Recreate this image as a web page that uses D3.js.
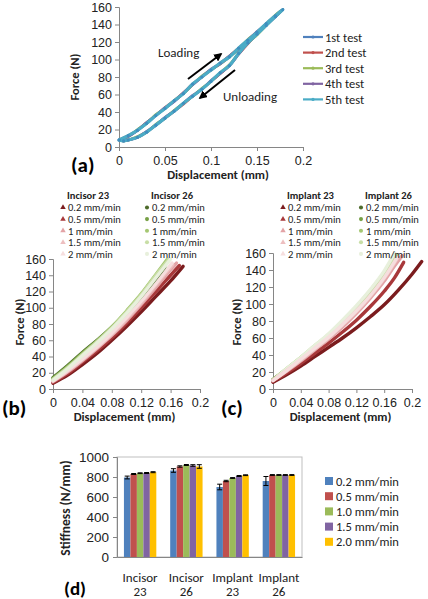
<!DOCTYPE html>
<html><head><meta charset="utf-8">
<script src="https://cdn.jsdelivr.net/npm/d3@7"></script>
<style>
body{margin:0;background:#fff;}
svg{display:block;font-family:Carlito,Lato,"Open Sans",sans-serif;}
</style></head><body>
<svg id="c" width="428" height="599"></svg>
<script>
// ---------- Panel (a) data ----------
const testNames = ["1st test","2nd test","3rd test","4th test","5th test"];
const testColors = ["#4F81BD","#C0504D","#9BBB59","#8064A2","#4BACC6"];
const loopDisp = [0,0.01,0.02,0.03,0.04,0.05,0.06,0.07,0.08,0.09,0.1,0.11,0.12,0.13,0.14,0.15,0.16,0.17,0.178,
                  0.17,0.16,0.15,0.14,0.13,0.12,0.11,0.1,0.09,0.08,0.07,0.06,0.05,0.04,0.03,0.02,0.01,0.005,0];
const test1Force = [8,12,19,27,36,44,52,61,71,80,88,95,103,112,122,131,140,150,157,
                    149,139,129,119,107,93,84,75,66,58,50,41,33,25,17,11,8,7,8];
const test2Force = [8,13,19,28,36,45,53,62,72,80,88,96,104,113,122,131,141,150,157,
                    149,139,129,118,106,93,84,75,66,58,49,41,33,25,17,11,8,7,8];
const test3Force = [8,12,20,27,37,44,53,61,71,81,88,95,103,112,123,131,140,151,157,
                    150,139,128,119,107,94,85,75,67,58,50,42,33,26,17,12,8,7,8];
const test4Force = [8,12,19,28,36,45,52,62,71,80,89,95,104,112,122,132,140,150,157,
                    149,140,129,119,106,93,84,76,66,59,50,41,34,25,18,11,8,7,8];
const test5Force = [8,13,19,27,36,44,53,61,72,80,88,96,103,113,122,131,141,150,157,
                    149,139,129,119,107,93,85,75,66,58,50,41,33,25,17,11,8,7,8];
const testForces = [test1Force,test2Force,test3Force,test4Force,test5Force];
const aXTicks = [0,0.05,0.1,0.15,0.2];
const forceTicks = [0,20,40,60,80,100,120,140,160];

// ---------- Panel (b) & (c) data ----------
const rateLabels = ["0.2 mm/min","0.5 mm/min","1 mm/min","1.5 mm/min","2 mm/min"];
const redShades = ["#7B1C1E","#A8383A","#E3A3A6","#EDBFC0","#F6DEDE"];
const greenShades = ["#4D6B2B","#77A046","#A5C772","#C8DEA6","#E8F0DC"];
const bcXTicks = [0,0.04,0.08,0.12,0.16,0.2];
const incisor23 = [
  [[0,7],[0.02,17],[0.04,30],[0.06,44],[0.08,60],[0.1,77],[0.12,95],[0.14,114],[0.16,133],[0.177,151]],
  [[0,8],[0.02,19],[0.04,33],[0.06,47],[0.08,63],[0.1,81],[0.12,100],[0.14,120],[0.16,140],[0.172,152]],
  [[0,9],[0.02,21],[0.04,35],[0.06,50],[0.08,66],[0.1,84],[0.12,104],[0.14,125],[0.16,147],[0.168,155]],
  [[0,10],[0.02,22],[0.04,36],[0.06,51],[0.08,67],[0.1,86],[0.12,106],[0.14,128],[0.163,153]],
  [[0,10],[0.02,23],[0.04,37],[0.06,52],[0.08,69],[0.1,88],[0.12,108],[0.14,130],[0.162,155]]
];
const incisor26 = [
  [[0,14],[0.02,29],[0.04,45],[0.06,60],[0.08,76],[0.1,94],[0.12,114],[0.14,136],[0.152,150]],
  [[0,13],[0.02,28],[0.04,44],[0.06,59],[0.08,76],[0.1,95],[0.12,116],[0.14,139],[0.155,156]],
  [[0,12],[0.02,27],[0.04,43],[0.06,59],[0.08,76],[0.1,96],[0.12,117],[0.14,141],[0.155,159]],
  [[0,12],[0.02,26],[0.04,42],[0.06,58],[0.08,75],[0.1,95],[0.12,116],[0.14,140],[0.157,159]],
  [[0,11],[0.02,25],[0.04,41],[0.06,57],[0.08,74],[0.1,93],[0.12,114],[0.14,137],[0.16,160]]
];
const implant23 = [
  [[0,8],[0.02,17],[0.04,27],[0.06,38],[0.08,49],[0.1,60],[0.12,72],[0.14,85],[0.16,99],[0.18,116],[0.2,135],[0.214,150]],
  [[0,9],[0.02,19],[0.04,30],[0.06,42],[0.08,54],[0.1,67],[0.12,81],[0.14,97],[0.16,115],[0.175,131],[0.188,149]],
  [[0,10],[0.02,21],[0.04,33],[0.06,46],[0.08,59],[0.1,73],[0.12,89],[0.14,107],[0.16,127],[0.175,145],[0.186,157]],
  [[0,10],[0.02,22],[0.04,34],[0.06,47],[0.08,60],[0.1,75],[0.12,91],[0.14,109],[0.16,130],[0.18,155]],
  [[0,10],[0.02,22],[0.04,35],[0.06,48],[0.08,61],[0.1,76],[0.12,92],[0.14,110],[0.16,131],[0.178,154]]
];
const implant26 = [
  [[0,11],[0.02,23],[0.04,36],[0.06,49],[0.08,62],[0.1,77],[0.12,93],[0.14,111],[0.16,132],[0.175,152]],
  [[0,11],[0.02,23],[0.04,36],[0.06,49],[0.08,62],[0.1,77],[0.12,93],[0.14,112],[0.16,133],[0.176,154]],
  [[0,11],[0.02,24],[0.04,37],[0.06,50],[0.08,63],[0.1,78],[0.12,95],[0.14,114],[0.16,135],[0.178,158]],
  [[0,10],[0.02,24],[0.04,37],[0.06,51],[0.08,64],[0.1,80],[0.12,97],[0.14,116],[0.16,137],[0.176,158]],
  [[0,10],[0.02,24],[0.04,37],[0.06,51],[0.08,65],[0.1,81],[0.12,98],[0.14,117],[0.16,139],[0.175,160]]
];

// ---------- Panel (d) data ----------
const groups = [["Incisor","23"],["Incisor","26"],["Implant","23"],["Implant","26"]];
const barSeries = ["0.2 mm/min","0.5 mm/min","1.0 mm/min","1.5 mm/min","2.0 mm/min"];
const barColors = ["#4F81BD","#C0504D","#9BBB59","#8064A2","#FFC000"];
const stiffness = [
  [795,830,838,840,848],
  [865,905,920,915,905],
  [700,760,790,810,818],
  [760,820,820,820,820]
];
const stiffnessErr = [
  [14,5,4,5,5],
  [18,7,5,8,18],
  [28,7,4,5,4],
  [45,4,4,4,4]
];
const stiffTicks = [0,200,400,600,800,1000];

// ---------- drawing ----------
const svg = d3.select("#c");
const axisCol = "#868686", txt = "#222";

function drawAxes(g, x, y, xTicks, yTicks, xFmt){
  const xa = g.append("g").attr("transform",`translate(0,${y(0)})`)
    .call(d3.axisBottom(x).tickValues(xTicks).tickSize(4).tickFormat(xFmt));
  const ya = g.append("g").attr("transform",`translate(${x(0)},0)`)
    .call(d3.axisLeft(y).tickValues(yTicks).tickSize(4));
  [xa,ya].forEach(a=>{
    a.select(".domain").attr("stroke",axisCol);
    a.selectAll(".tick line").attr("stroke",axisCol);
    a.selectAll(".tick text").attr("fill",txt).style("font-size","12.5px").style("font-family","inherit");
  });
  ya.selectAll(".tick text").attr("x",-7);
  xa.selectAll(".tick text").attr("y",9);
  return [xa,ya];
}

// Panel (a)
{
  const x = d3.scaleLinear().domain([0,0.2]).range([119,303]);
  const y = d3.scaleLinear().domain([0,160]).range([147,7]);
  const g = svg.append("g");
  drawAxes(g,x,y,aXTicks,forceTicks,d => d===0?"0":String(d));
  const line = d3.line().x(d=>x(d[0])).y(d=>y(d[1])).curve(d3.curveCatmullRom);
  testForces.forEach((f,i)=>{
    const pts = loopDisp.map((d,k)=>[d,f[k]]);
    g.append("path").attr("d",line(pts)).attr("fill","none")
      .attr("stroke",testColors[i]).attr("stroke-width",i===4?3.2:2.6);
  });
  g.selectAll("circle.m").data(loopDisp.map((d,k)=>[d,test5Force[k]])).enter().append("circle")
    .attr("cx",d=>x(d[0])).attr("cy",d=>y(d[1])).attr("r",1.6).attr("fill","#3F8FBF");
  g.append("text").attr("x",218).attr("y",179).attr("text-anchor","middle")
    .style("font-weight","bold").style("font-size","12.5px").attr("fill",txt).text("Displacement (mm)");
  g.append("text").attr("transform","translate(79,77) rotate(-90)").attr("text-anchor","middle")
    .style("font-weight","bold").style("font-size","12.5px").attr("fill",txt).text("Force (N)");
  g.append("text").attr("x",71).attr("y",172).style("font-weight","bold").style("font-size","21px").attr("fill","#000").text("(a)");
  testNames.forEach((n,i)=>{
    const yy = 37 + i*15.6;
    g.append("line").attr("x1",303).attr("x2",323).attr("y1",yy).attr("y2",yy).attr("stroke",testColors[i]).attr("stroke-width",2.2);
    g.append("circle").attr("cx",313).attr("cy",yy).attr("r",1.6).attr("fill",testColors[i]);
    g.append("text").attr("x",325).attr("y",yy+4.5).style("font-size","12.5px").attr("fill",txt).text(n);
  });
  const defs = svg.append("defs");
  defs.append("marker").attr("id","ah").attr("viewBox","0 0 10 10").attr("refX",8).attr("refY",5)
    .attr("markerWidth",4.2).attr("markerHeight",4.2).attr("orient","auto")
    .append("path").attr("d","M0,0 L10,5 L0,10 z").attr("fill","#000");
  g.append("line").attr("x1",188).attr("y1",79).attr("x2",221).attr("y2",54).attr("stroke","#000").attr("stroke-width",2).attr("marker-end","url(#ah)");
  g.append("line").attr("x1",235).attr("y1",70).attr("x2",200).attr("y2",98).attr("stroke","#000").attr("stroke-width",2).attr("marker-end","url(#ah)");
  g.append("text").attr("x",158).attr("y",57).style("font-size","13px").attr("fill",txt).text("Loading");
  g.append("text").attr("x",223).attr("y",101).style("font-size","13px").attr("fill",txt).text("Unloading");
}

function panelBC(opts){
  const x = d3.scaleLinear().domain([0,0.2]).range(opts.xr);
  const y = d3.scaleLinear().domain([0,160]).range(opts.yr);
  const g = svg.append("g");
  drawAxes(g,x,y,bcXTicks,forceTicks,d=>d===0?"0":String(d));
  const line = d3.line().x(d=>x(d[0])).y(d=>y(d[1])).curve(d3.curveMonotoneX);
  opts.order.forEach(([set,shades])=>{
    set.forEach((s,i)=>{
      g.append("path").attr("d",line(s)).attr("fill","none").attr("stroke",shades[i]).attr("stroke-width",3.4).attr("stroke-linecap","round");
    });
  });
  const cx = (opts.xr[0]+opts.xr[1])/2 - 2;
  g.append("text").attr("x",cx).attr("y",421).attr("text-anchor","middle")
    .style("font-weight","bold").style("font-size","12.5px").attr("fill",txt).text("Displacement (mm)");
  g.append("text").attr("transform",`translate(${opts.yt},322) rotate(-90)`).attr("text-anchor","middle")
    .style("font-weight","bold").style("font-size","12.5px").attr("fill",txt).text("Force (N)");
  g.append("text").attr("x",opts.lbx).attr("y",415).style("font-weight","bold").style("font-size","21px").attr("fill","#000").text(opts.label);
  opts.leg.forEach(L=>{
    g.append("text").attr("x",L.x).attr("y",199).style("font-weight","bold").style("font-size","10.5px").attr("fill",txt).text(L.title);
    rateLabels.forEach((r,i)=>{
      const yy = 207.5 + i*11.6;
      g.append("path").attr("d",d3.symbol().type(L.sym).size(13)()).attr("transform",`translate(${L.x-4},${yy})`).attr("fill",L.cols[i]);
      g.append("text").attr("x",L.x+1).attr("y",yy+3.8).style("font-size","10.5px").attr("fill",txt).text(r);
    });
  });
}

panelBC({xr:[53,200], yr:[389,259], yt:24, lbx:2, label:"(b)",
  order:[[incisor23,redShades],[incisor26,greenShades]],
  leg:[{x:67,title:"Incisor 23",sym:d3.symbolTriangle,cols:redShades},{x:151,title:"Incisor 26",sym:d3.symbolCircle,cols:greenShades}]});
panelBC({xr:[273,412], yr:[389,253], yt:241, lbx:221, label:"(c)",
  order:[[implant26,greenShades],[implant23,redShades]],
  leg:[{x:287,title:"Implant 23",sym:d3.symbolTriangle,cols:redShades},{x:365,title:"Implant 26",sym:d3.symbolCircle,cols:greenShades}]});

// Panel (d)
{
  const x0 = d3.scaleBand().domain(d3.range(groups.length)).range([117,302]).paddingInner(0.3).paddingOuter(0.15);
  const x1 = d3.scaleBand().domain(d3.range(barSeries.length)).range([0,x0.bandwidth()]);
  const y = d3.scaleLinear().domain([0,1000]).range([557,457]);
  const g = svg.append("g");
  g.append("rect").attr("x",117).attr("y",457).attr("width",185).attr("height",100).attr("fill","none").attr("stroke","#BFBFBF");
  const ya = g.append("g").attr("transform","translate(117,0)").call(d3.axisLeft(y).tickValues(stiffTicks).tickSize(4).tickFormat(d3.format("d")));
  ya.select(".domain").attr("stroke",axisCol);
  ya.selectAll(".tick line").attr("stroke",axisCol);
  ya.selectAll(".tick text").attr("x",-8).attr("fill",txt).style("font-size","13.5px").style("font-family","inherit");
  const xa = g.append("g").attr("transform","translate(0,557)")
    .call(d3.axisBottom(x0).tickSize(0).tickFormat(""));
  xa.select(".domain").attr("stroke",axisCol);
  stiffness.forEach((vals,gi)=>{
    vals.forEach((v,si)=>{
      const bx = x0(gi)+x1(si);
      g.append("rect").attr("x",bx).attr("y",y(v)).attr("width",x1.bandwidth()).attr("height",y(0)-y(v)).attr("fill",barColors[si]);
      const e = stiffnessErr[gi][si], cx = bx + x1.bandwidth()/2;
      g.append("line").attr("x1",cx).attr("x2",cx).attr("y1",y(v+e)).attr("y2",y(v-e)).attr("stroke","#000").attr("stroke-width",1);
      [v+e,v-e].forEach(t=>g.append("line").attr("x1",cx-2.5).attr("x2",cx+2.5).attr("y1",y(t)).attr("y2",y(t)).attr("stroke","#000"));
    });
    const gc = x0(gi)+x0.bandwidth()/2;
    g.append("text").attr("x",gc).attr("y",582).attr("text-anchor","middle").style("font-size","13px").attr("fill",txt).text(groups[gi][0]);
    g.append("text").attr("x",gc).attr("y",596).attr("text-anchor","middle").style("font-size","13px").attr("fill",txt).text(groups[gi][1]);
  });
  g.append("text").attr("transform","translate(70,508) rotate(-90)").attr("text-anchor","middle")
    .style("font-weight","bold").style("font-size","13.5px").attr("fill",txt).text("Stiffness (N/mm)");
  g.append("text").attr("x",64).attr("y",595).style("font-weight","bold").style("font-size","19px").attr("fill","#000").text("(d)");
  barSeries.forEach((n,i)=>{
    const yy = 481 + i*15.2;
    g.append("rect").attr("x",325).attr("y",yy-4).attr("width",8).attr("height",8).attr("fill",barColors[i]);
    g.append("text").attr("x",336).attr("y",yy+4.5).style("font-size","12.5px").attr("fill",txt).text(n);
  });
}
</script>
</body></html>
